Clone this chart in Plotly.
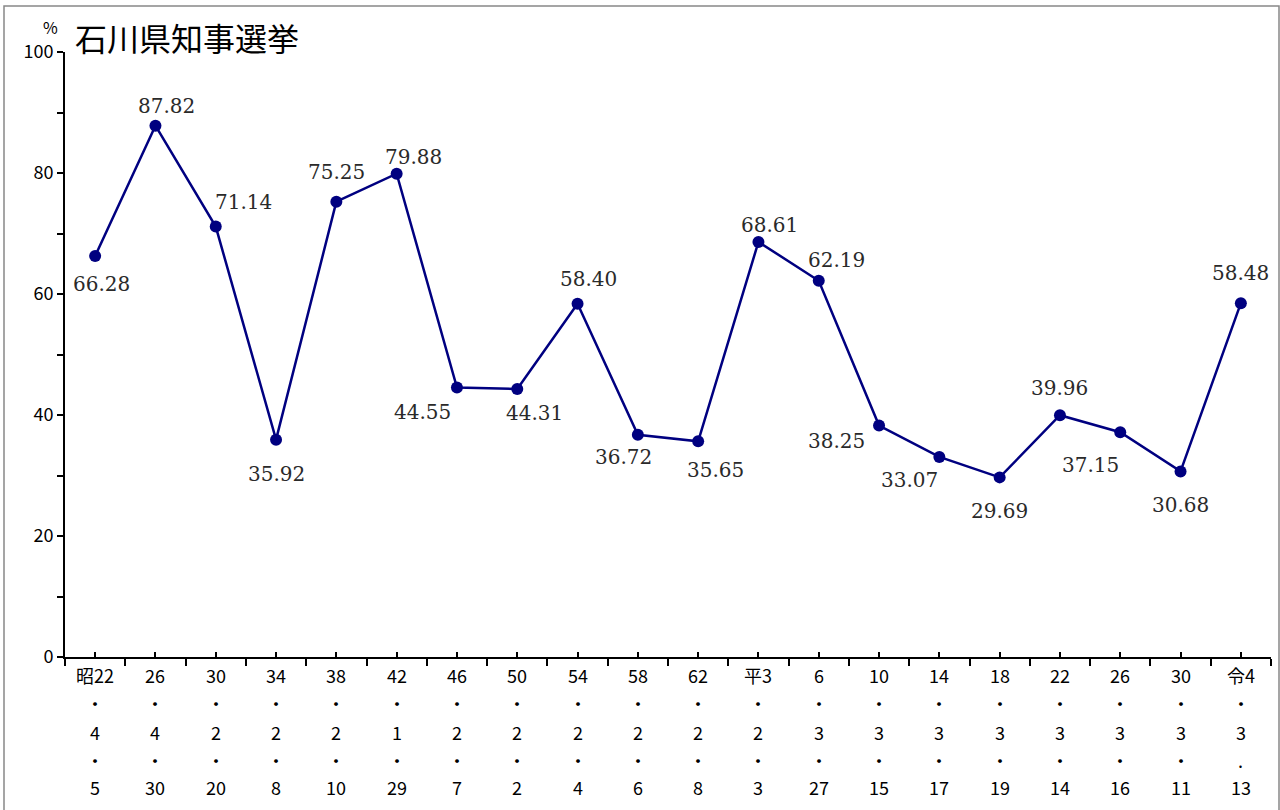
import plotly.graph_objects as go

# ---- data ----
era_year = ["昭22", "26", "30", "34", "38", "42", "46", "50", "54", "58", "62",
            "平3", "6", "10", "14", "18", "22", "26", "30", "令4"]
month = ["4", "4", "2", "2", "2", "1", "2", "2", "2", "2", "2",
         "2", "3", "3", "3", "3", "3", "3", "3", "3"]
day = ["5", "30", "20", "8", "10", "29", "7", "2", "4", "6", "8",
       "3", "27", "15", "17", "19", "14", "16", "11", "13"]
turnout = [66.28, 87.82, 71.14, 35.92, 75.25, 79.88, 44.55, 44.31, 58.40, 36.72,
           35.65, 68.61, 62.19, 38.25, 33.07, 29.69, 39.96, 37.15, 30.68, 58.48]
title_text = "石川県知事選挙"
unit_text = "%"

# ---- styles (label offsets in px) ----
label_shift = [(6, -28), (11, 20), (28, 25), (0, -34), (0, 30), (17, 17), (-34, -25),
               (17, -24), (11, 25), (-14, -22), (17, -29), (11, 17), (18, 21),
               (-43, -15), (-30, -23), (0, -34), (0, 27), (-30, -33), (0, -34), (0, 30)]

W, H = 1280, 810
L, R, T, B = 65, 9, 52, 153
pw = W - L - R
ph = H - T - B

navy = "#000080"
xs = list(range(len(turnout)))

fig = go.Figure()
fig.add_trace(go.Scatter(
    x=xs, y=turnout, mode="lines+markers",
    line=dict(color=navy, width=2.5),
    marker=dict(color=navy, size=12),
    hoverinfo="skip", showlegend=False,
))

ann = []
for i, v in enumerate(turnout):
    dx, dy = label_shift[i]
    ann.append(dict(x=i, y=v, xref="x", yref="y", text=f"{v:.2f}", showarrow=False,
                    xshift=dx, yshift=dy, xanchor="center", yanchor="middle",
                    font=dict(family="DejaVu Serif", size=20, color="#2a2a2a")))

row_offsets = [18, 46, 75, 103, 130]
tick_font = dict(family="Noto Sans CJK JP", size=18, color="#000000")
for i in xs:
    last = i == len(xs) - 1
    rows = [era_year[i], "・", month[i], "." if last else "・", day[i]]
    for r, txt in enumerate(rows):
        ann.append(dict(x=i, y=0, xref="x", yref="paper", text=txt, showarrow=False,
                        yshift=-row_offsets[r], xanchor="center", yanchor="middle",
                        font=tick_font))

ann.append(dict(x=(50 - L) / pw, y=(H - B - 27) / ph, xref="paper", yref="paper",
                text=unit_text, showarrow=False, xanchor="center", yanchor="middle",
                borderpad=0,
                font=dict(family="Noto Sans CJK JP", size=16, color="#000000")))

fig.update_layout(
    width=W, height=H,
    margin=dict(l=L, r=R, t=T, b=B),
    paper_bgcolor="white", plot_bgcolor="white",
    title=dict(text=title_text, x=75 / W, xanchor="left", y=1 - 40 / H, yanchor="middle",
               xref="container", yref="container",
               font=dict(family="Noto Sans CJK JP", size=32, color="#000000")),
    annotations=ann,
    shapes=[dict(type="rect", xref="paper", yref="paper",
                 x0=(4 - L) / pw, x1=(1279 - L) / pw,
                 y0=(H - B - 830) / ph, y1=(H - B - 6) / ph,
                 line=dict(color="#888888", width=1.5), fillcolor="rgba(0,0,0,0)",
                 layer="below")],
)

fig.update_xaxes(
    range=[-0.5, len(xs) - 0.5], showgrid=False, zeroline=False,
    showline=True, linecolor="black", linewidth=2,
    tickmode="linear", tick0=-0.5, dtick=1, ticks="outside", ticklen=7,
    tickcolor="black", tickwidth=2, showticklabels=False,
    minor=dict(tickmode="linear", tick0=0, dtick=1, ticks="inside", ticklen=5,
               tickcolor="black", tickwidth=2),
)
fig.update_yaxes(
    range=[0, 100], showgrid=False, zeroline=False,
    showline=True, linecolor="black", linewidth=2,
    tickmode="linear", tick0=0, dtick=20, ticks="outside", ticklen=6,
    tickcolor="black", tickwidth=2,
    tickfont=dict(family="Noto Sans CJK JP", size=18, color="#000000"),
    minor=dict(tickmode="linear", tick0=0, dtick=10, ticks="outside", ticklen=6,
               tickcolor="black", tickwidth=2),
)

fig.write_html("out.html", config={"displayModeBar": False},
               post_script="document.body.style.margin='0';document.body.style.padding='0';")
